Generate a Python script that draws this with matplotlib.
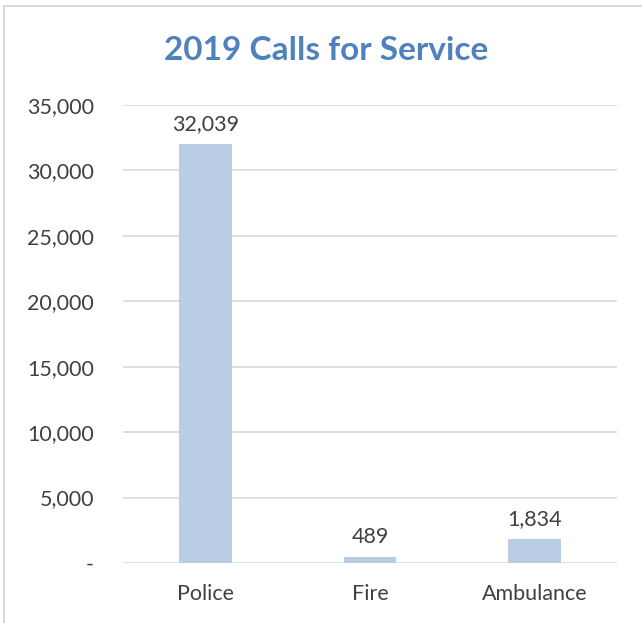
import matplotlib
matplotlib.use("Agg")
import matplotlib.pyplot as plt
from matplotlib.patches import Rectangle
from matplotlib.ticker import FuncFormatter

categories = ["Police", "Fire", "Ambulance"]
values = [32039, 489, 1834]
yticks = [0, 5000, 10000, 15000, 20000, 25000, 30000, 35000]

W, H = 642, 623
fig = plt.figure(figsize=(W / 100, H / 100), dpi=100)
plt.rcParams['font.family'] = ['Lato', 'DejaVu Sans']

# outer border
fig.patches.append(Rectangle((4 / W, -0.1), 1.2, 1 - 6 / H + 0.1, transform=fig.transFigure,
                             fill=False, edgecolor='#D9D9D9', linewidth=1.5))

ax = fig.add_axes([123 / W, 1 - 563 / H, (617 - 123) / W, (563 - 105) / H])
x = range(len(categories))
bars = ax.bar(x, values, width=0.32, color='#B9CDE5', zorder=3)
ax.set_xlim(-0.5, 2.5)
ax.set_ylim(0, 35000)
ax.set_yticks(yticks)
ax.yaxis.set_major_formatter(FuncFormatter(lambda v, p: '-' if v == 0 else f'{int(v):,}'))
ax.set_xticks(list(x))
ax.set_xticklabels(categories)
ax.grid(axis='y', color='#D9D9D9', linewidth=1.2, zorder=0)
for s in ax.spines.values():
    s.set_visible(False)
ax.tick_params(length=0, labelsize=15.5, colors='#404040')
ax.tick_params(axis='y', pad=21)
ax.tick_params(axis='x', pad=15)
for lbl in ax.get_yticklabels():
    lbl.set_horizontalalignment('right')

for b, v in zip(bars, values):
    ax.annotate(f'{v:,}', (b.get_x() + b.get_width() / 2, v), xytext=(0, 7),
                textcoords='offset points', ha='center', va='bottom',
                fontsize=15.5, color='#404040')

fig.text(326 / W, 1 - 51 / H, '2019 Calls for Service', ha='center', va='center',
         fontsize=24, fontweight='bold', color='#4F81BD')

fig.savefig('out.png', dpi=100, facecolor='white')
